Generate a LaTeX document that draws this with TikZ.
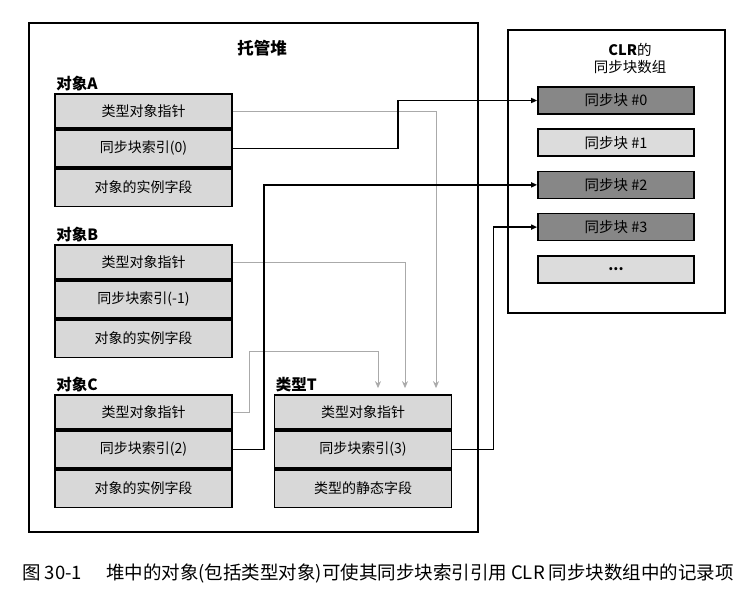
\documentclass[tikz,border=0pt]{standalone}
\usepackage{fontspec}
\setmainfont{Noto Sans CJK SC}
\usetikzlibrary{positioning,arrows.meta}
\definecolor{FieldGray}{RGB}{216,216,216}
\definecolor{SyncDark}{RGB}{135,135,135}
\definecolor{SyncLight}{RGB}{220,220,220}
\definecolor{PtrGray}{RGB}{170,170,170}
\tikzset{
  frame/.style={draw,line width=1.7pt,inner sep=0pt},
  field/.style={draw,line width=1.7pt,fill=FieldGray,minimum width=177pt,
    minimum height=37.5pt,inner sep=0pt,font=\fontsize{14}{16}\selectfont},
  typefield/.style={field,minimum height=34pt},
  syncblock/.style={draw,line width=1.7pt,minimum width=156pt,
    minimum height=27pt,inner sep=0pt,font=\fontsize{14.5}{16}\selectfont},
  darkblock/.style={syncblock,fill=SyncDark},
  lightblock/.style={syncblock,fill=SyncLight},
  objlabel/.style={anchor=south west,inner sep=2pt,font=\fontsize{15.5}{17}\selectfont\bfseries},
  syncflow/.style={-{Triangle[length=6pt,width=5pt]},line width=1.7pt},
  ptrflow/.style={-{Stealth[length=7pt,width=6pt]},line width=0.9pt,draw=PtrGray,shorten >=6pt}
}
\begin{document}
\begin{tikzpicture}[x=1pt,y=-1pt]
  \useasboundingbox (0,0) rectangle (748,593);
  % managed heap
  \node[frame,minimum width=449pt,minimum height=509pt] (heap) at (253.5,277.5) {};
  \node[font=\fontsize{16.5}{18}\selectfont\bfseries] (heapTitle) at (262,48) {托管堆};

  \node[typefield] (aType) at (143.5,111) {类型对象指针};
  \node[field,below=0pt of aType] (aSync) {同步块索引(0)};
  \node[field,below=0pt of aSync] (aInst) {对象的实例字段};
  \node[objlabel] (aLabel) at (aType.north west) {对象A};

  \node[typefield] (bType) at (143.5,262) {类型对象指针};
  \node[field,below=0pt of bType] (bSync) {同步块索引(-1)};
  \node[field,below=0pt of bSync] (bInst) {对象的实例字段};
  \node[objlabel] (bLabel) at (bType.north west) {对象B};

  \node[typefield] (cType) at (143.5,412) {类型对象指针};
  \node[field,below=0pt of cType] (cSync) {同步块索引(2)};
  \node[field,below=0pt of cSync] (cInst) {对象的实例字段};
  \node[objlabel] (cLabel) at (cType.north west) {对象C};

  \node[typefield] (tType) at (363,412) {类型对象指针};
  \node[field,below=0pt of tType] (tSync) {同步块索引(3)};
  \node[field,below=0pt of tSync] (tStatic) {类型的静态字段};
  \node[objlabel] (tLabel) at (tType.north west) {类型T};

  % sync block array
  \node[frame,minimum width=217pt,minimum height=283pt] (clr) at (616.5,171.5) {};
  \node[align=center,font=\fontsize{14.5}{17}\selectfont] (clrTitle) at (630,58) {\textbf{CLR}的\\同步块数组};
  \node[darkblock] (s0) at (616,100.5) {同步块 \#0};
  \node[lightblock,below=13.5pt of s0] (s1) {同步块 \#1};
  \node[darkblock,below=13.5pt of s1] (s2) {同步块 \#2};
  \node[darkblock,below=13.5pt of s2] (s3) {同步块 \#3};
  \node[lightblock,below=13.5pt of s3] (s4) {\textbf{...}};

  % type object pointers
  \draw[ptrflow] (aType.east) -| ([xshift=73pt]tType.north);
  \draw[ptrflow] (bType.east) -| ([xshift=42pt]tType.north);
  \draw[ptrflow] (cType.east) -- ++(17,0) |- ([xshift=15pt,yshift=43pt]tType.north)
    -- ([xshift=15pt]tType.north);

  % sync block indexes
  \draw[syncflow] (aSync.east) -- ++(165,0) |- (s0.west);
  \draw[syncflow] (cSync.east) -- ++(31,0) |- (s2.west);
  \draw[syncflow] (tSync.east) -- ++(41,0) |- (s3.west);

  \node[font=\fontsize{18.5}{20}\selectfont] (caption) at (378,573)
    {图 30-1\hspace{1.3em}堆中的对象(包括类型对象)可使其同步块索引引用 CLR 同步块数组中的记录项};
\end{tikzpicture}
\end{document}
